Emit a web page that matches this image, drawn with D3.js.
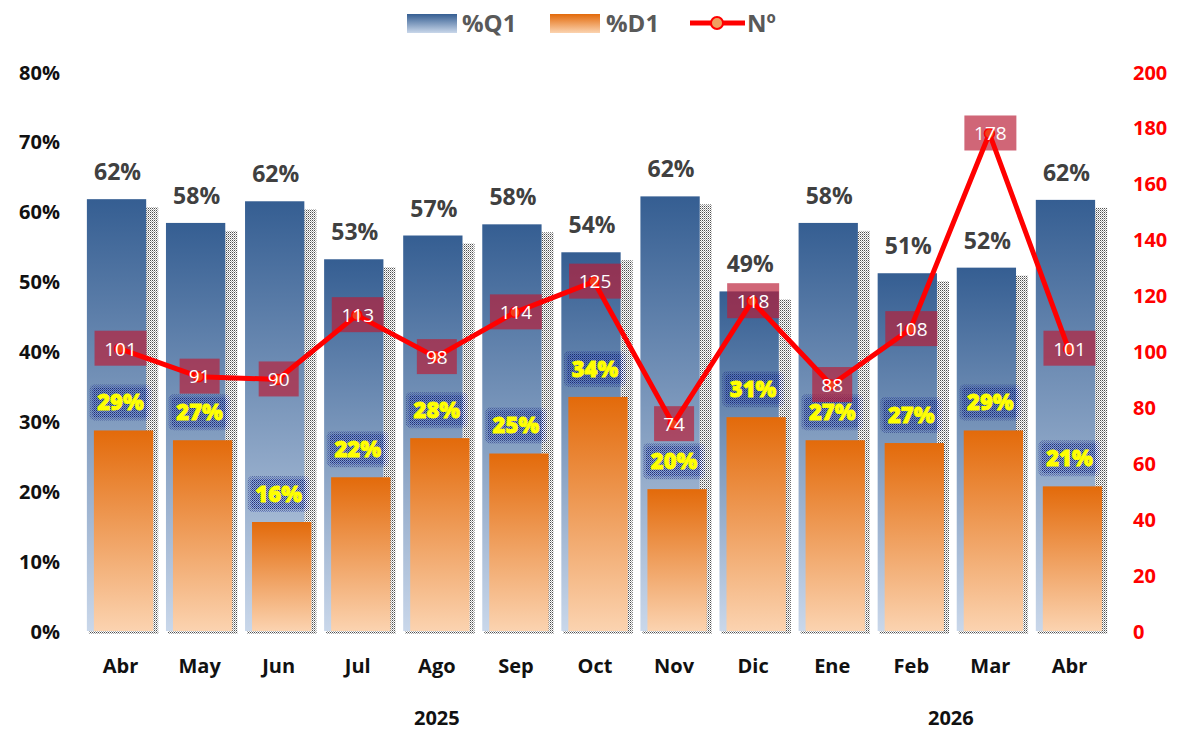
<!DOCTYPE html>
<html><head><meta charset="utf-8">
<script src="https://cdn.jsdelivr.net/npm/d3@7"></script>
<style>body{margin:0;background:#fff}svg{display:block;font-family:"Open Sans","DejaVu Sans",sans-serif}</style>
</head><body>
<svg id="c" width="1181" height="733"></svg>
<script>
const months = ["Abr","May","Jun","Jul","Ago","Sep","Oct","Nov","Dic","Ene","Feb","Mar","Abr"];
const years = [{label:"2025", from:0, to:8},{label:"2026", from:9, to:12}];
const q1 = [0.618,0.584,0.615,0.532,0.566,0.582,0.542,0.622,0.486,0.584,0.512,0.520,0.617];
const d1 = [0.287,0.273,0.156,0.220,0.276,0.254,0.335,0.203,0.306,0.273,0.269,0.287,0.207];
const num = [101,91,90,113,98,114,125,74,118,88,108,178,101];
const leftTicks = [0,0.1,0.2,0.3,0.4,0.5,0.6,0.7,0.8];
const rightTicks = [0,20,40,60,80,100,120,140,160,180,200];

const svg = d3.select("#c");
const defs = svg.append("defs");
function vgrad(id, top, bottom){
  const g = defs.append("linearGradient").attr("id",id).attr("x1",0).attr("y1",0).attr("x2",0).attr("y2",1);
  g.append("stop").attr("offset","0%").attr("stop-color",top);
  g.append("stop").attr("offset","100%").attr("stop-color",bottom);
}
vgrad("gBlue","#355e92","#c9d7ea");
vgrad("gOrange","#e36a0a","#fbd3b0");
const sp = defs.append("pattern").attr("id","pShadow").attr("width",2).attr("height",2).attr("patternUnits","userSpaceOnUse");
sp.append("rect").attr("x",0).attr("y",0).attr("width",1).attr("height",1).attr("fill","#222");
sp.append("rect").attr("x",1).attr("y",1).attr("width",1).attr("height",1).attr("fill","#999");
const gp = defs.append("pattern").attr("id","pGlow").attr("width",2).attr("height",2).attr("patternUnits","userSpaceOnUse");
gp.append("rect").attr("x",0).attr("y",0).attr("width",1).attr("height",1).attr("fill","#0b1870");
gp.append("rect").attr("x",1).attr("y",1).attr("width",1).attr("height",1).attr("fill","#2c3fa8");

const x = d3.scaleBand().domain(d3.range(months.length)).range([77,1105]).paddingInner(0.25).paddingOuter(0.125);
const yL = d3.scaleLinear().domain([0,0.8]).range([631,72]);
const yR = d3.scaleLinear().domain([0,200]).range([631,72]);
const bw = x.bandwidth();
const oOff = 7;

const axL = d3.axisLeft(yL).tickValues(leftTicks).tickFormat(d3.format(".0%")).tickSize(0).tickPadding(0);
svg.append("g").attr("transform","translate(60,0)").call(axL)
  .call(g=>g.select(".domain").remove())
  .selectAll("text").attr("font-family","'Open Sans'").attr("font-size",20).attr("font-weight","bold").attr("fill","#111").attr("dy","0.35em");
const axR = d3.axisRight(yR).tickValues(rightTicks).tickSize(0).tickPadding(0);
svg.append("g").attr("transform","translate(1133,0)").call(axR)
  .call(g=>g.select(".domain").remove())
  .selectAll("text").attr("font-family","'Open Sans'").attr("font-size",20).attr("font-weight","bold").attr("fill","#ff0000").attr("dy","0.35em");

const sh = svg.append("g").attr("opacity",0.8);
q1.forEach((v,i)=>{
  const bx = x(i);
  sh.append("rect").attr("x",bx+bw).attr("y",yL(v)+8).attr("width",12).attr("height",yL(0)-yL(v)-5).attr("fill","url(#pShadow)");
  sh.append("rect").attr("x",bx+2).attr("y",yL(0)).attr("width",bw+10).attr("height",3).attr("fill","url(#pShadow)");
});
svg.append("g").selectAll("rect").data(q1).join("rect")
  .attr("x",(d,i)=>x(i)).attr("y",d=>yL(d)).attr("width",bw).attr("height",d=>yL(0)-yL(d)).attr("fill","url(#gBlue)");
svg.append("g").selectAll("rect").data(d1).join("rect")
  .attr("x",(d,i)=>x(i)+oOff).attr("y",d=>yL(d)).attr("width",bw).attr("height",d=>yL(0)-yL(d)).attr("fill","url(#gOrange)");

svg.append("g").selectAll("text").data(q1).join("text")
  .attr("x",(d,i)=>x(i)+bw/2+1).attr("y",d=>yL(d)-19)
  .attr("text-anchor","middle").attr("font-size",23).attr("font-weight","bold").attr("fill","#404040")
  .text(d=>Math.round(d*100)+"%");

const ol = svg.append("g");
d1.forEach((v,i)=>{
  const cx = x(i)+bw/2+4, cy = yL(v)-28;
  ol.append("rect").attr("x",cx-31).attr("y",cy-18).attr("width",62).attr("height",36).attr("rx",5)
    .attr("fill","url(#pGlow)").attr("opacity",0.45);
  ol.append("rect").attr("x",cx-28).attr("y",cy-15).attr("width",56).attr("height",30).attr("rx",4)
    .attr("fill","url(#pGlow)").attr("opacity",0.75);
  ol.append("text").attr("x",cx).attr("y",cy).attr("dy","0.36em").attr("text-anchor","middle")
    .attr("font-size",22).attr("font-weight",800).attr("fill","#ffff00")
    .attr("stroke","#ffff00").attr("stroke-width",0.8).text(Math.round(v*100)+"%");
});

const px = i => x(i)+bw/2+3;
const lb = svg.append("g");
num.forEach((v,i)=>{
  const w = String(v).length>2 ? 52 : 40;
  lb.append("rect").attr("x",px(i)-w/2+1).attr("y",yR(v)-18).attr("width",w).attr("height",35)
    .attr("fill","rgb(185,30,55)").attr("opacity",0.68);
});
svg.append("path").datum(num)
  .attr("d",d3.line().x((d,i)=>px(i)).y(d=>yR(d)))
  .attr("fill","none").attr("stroke","#ff0000").attr("stroke-width",5).attr("stroke-linejoin","round");
svg.append("g").selectAll("circle").data(num).join("circle")
  .attr("cx",(d,i)=>px(i)).attr("cy",d=>yR(d)).attr("r",5).attr("fill","#f0401a").attr("stroke","#ff0000").attr("stroke-width",1.5);
svg.append("g").selectAll("text").data(num).join("text")
  .attr("x",(d,i)=>px(i)+1).attr("y",d=>yR(d)).attr("dy","0.36em").attr("text-anchor","middle")
  .attr("font-size",19).attr("fill","#ffffff").text(d=>d);

const axB = d3.axisBottom(x).tickFormat(i=>months[i]).tickSize(0).tickPadding(0);
svg.append("g").attr("transform","translate(4,666)").call(axB)
  .call(g=>g.select(".domain").remove())
  .selectAll("text").attr("font-family","'Open Sans'").attr("font-size",20).attr("font-weight","bold").attr("fill","#111").attr("dy","0.35em");
svg.append("g").selectAll("text").data(years).join("text")
  .attr("x",d=>(x(d.from)+x(d.to))/2+bw/2+4).attr("y",718).attr("dy","0.35em").attr("text-anchor","middle")
  .attr("font-size",20).attr("font-weight","bold").attr("fill","#111").text(d=>d.label);

const lg = svg.append("g");
lg.append("rect").attr("x",407).attr("y",14).attr("width",50).attr("height",19).attr("fill","url(#gBlue)");
lg.append("text").attr("x",462).attr("y",23).attr("dy","0.36em").attr("font-size",24).attr("font-weight","bold").attr("fill","#595959").text("%Q1");
lg.append("rect").attr("x",550).attr("y",14).attr("width",50).attr("height",19).attr("fill","url(#gOrange)");
lg.append("text").attr("x",606).attr("y",23).attr("dy","0.36em").attr("font-size",24).attr("font-weight","bold").attr("fill","#595959").text("%D1");
lg.append("line").attr("x1",690).attr("x2",745).attr("y1",23).attr("y2",23).attr("stroke","#ff0000").attr("stroke-width",5);
lg.append("circle").attr("cx",717).attr("cy",23).attr("r",6).attr("fill","#f0a060").attr("stroke","#ff0000").attr("stroke-width",2);
lg.append("text").attr("x",747).attr("y",23).attr("dy","0.36em").attr("font-size",24).attr("font-weight","bold").attr("fill","#595959").text("Nº");
</script>
</body></html>
